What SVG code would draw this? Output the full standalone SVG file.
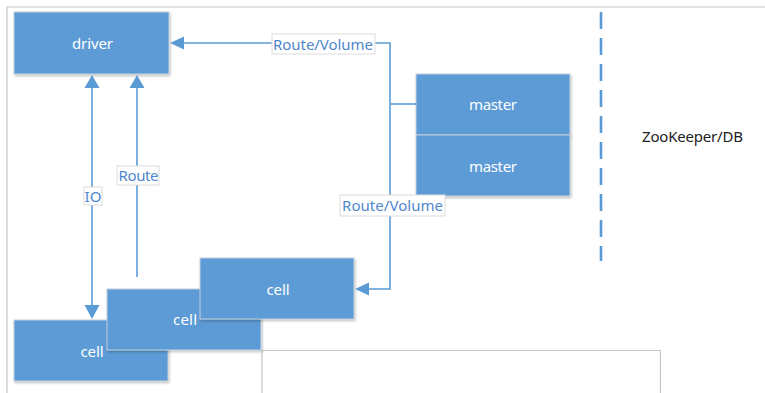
<svg xmlns="http://www.w3.org/2000/svg" width="765" height="393" viewBox="0 0 765 393">
<defs>
<style>
.box{fill:#5b9bd5;stroke:#c4d0dc;stroke-width:1;filter:url(#sh)}
.bt{fill:#ffffff;font-family:"Noto Sans","Open Sans",sans-serif;font-size:15px;text-anchor:middle}
.ln{fill:none;stroke:#5b9bd5;stroke-width:1.6}
.lb{fill:#ffffff;stroke:#dcdcdc;stroke-width:1}
.lt{fill:#4f86cc;font-family:"Noto Sans","Open Sans",sans-serif;font-size:15px;text-anchor:middle}
.pg{fill:none;stroke:#c6c6c6;stroke-width:1.2}
.ah{fill:#5b9bd5}
</style>
<filter id="sh" x="-10%" y="-10%" width="120%" height="130%">
<feDropShadow dx="1" dy="1.5" stdDeviation="1.2" flood-color="#000" flood-opacity="0.25"/>
</filter>
</defs>
<rect width="765" height="393" fill="#ffffff"/>
<g id="page">
<path class="pg" d="M7,393 V7 H765"/>
<path class="pg" d="M262,393 V350.5 H660.5 V393"/>
</g>
<g id="divider">
<line x1="601" y1="12" x2="601" y2="261" stroke="#5b9bd5" stroke-width="2.6" stroke-dasharray="17,9"/>
</g>
<g id="driver">
<rect class="box" x="14" y="12" width="155" height="62"/>
<text class="bt" x="92.5" y="49" textLength="41">driver</text>
</g>
<g id="master1">
<rect class="box" x="416" y="74" width="154" height="61"/>
<text class="bt" x="493" y="110" textLength="48">master</text>
</g>
<g id="master2">
<rect class="box" x="416" y="135" width="154" height="61"/>
<text class="bt" x="493" y="172" textLength="48">master</text>
</g>
<g id="cell1">
<rect class="box" x="14" y="320" width="154" height="61"/>
<text class="bt" x="92" y="357" textLength="23">cell</text>
</g>
<g id="cell2">
<rect class="box" x="107" y="289" width="154" height="61"/>
<text class="bt" x="185" y="325" textLength="24">cell</text>
</g>
<g id="cell3">
<rect class="box" x="200" y="258" width="154" height="61"/>
<text class="bt" x="278" y="295" textLength="23">cell</text>
</g>
<g id="zookeeper">
<text x="642" y="141.5" fill="#222222" font-family="'Noto Sans','Open Sans',sans-serif" font-size="15" textLength="101">ZooKeeper/DB</text>
</g>
<g id="connectors">
<path class="ln" d="M184,43 H390 V289 H369"/>
<path class="ln" d="M390,104 H416"/>
<path class="ln" d="M92,88 V305"/>
<path class="ln" d="M137,88 V277"/>
<polygon class="ah" points="170,43 184,36.5 184,49.5"/>
<polygon class="ah" points="92,75 84.5,88 99.5,88"/>
<polygon class="ah" points="92,319 84.5,305 99.5,305"/>
<polygon class="ah" points="137,75 129.5,88 144.5,88"/>
<polygon class="ah" points="355,289 369,282.5 369,295.5"/>
<rect class="lb" x="272" y="34" width="103" height="20"/>
<text class="lt" x="323" y="50" textLength="100">Route/Volume</text>
<rect class="lb" x="340" y="195" width="105" height="21"/>
<text class="lt" x="392.5" y="210.5" textLength="101">Route/Volume</text>
<rect class="lb" x="117" y="166" width="42" height="19"/>
<text class="lt" x="138.5" y="181" textLength="40">Route</text>
<rect class="lb" x="84" y="187" width="18" height="18"/>
<text class="lt" x="93" y="202" font-size="14">IO</text>
</g>
</svg>
